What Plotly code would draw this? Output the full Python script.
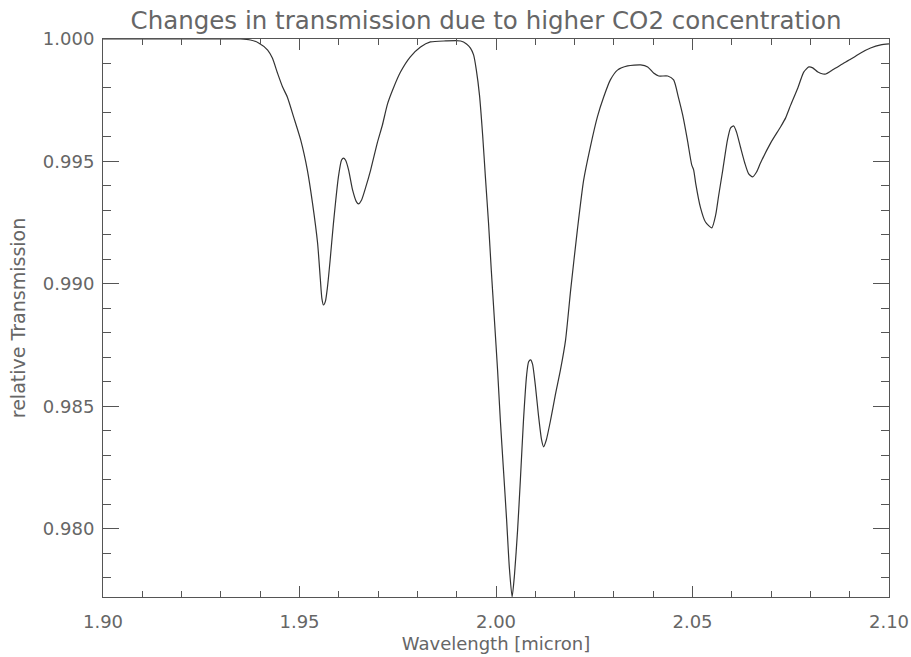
import plotly.graph_objects as go

wavelength = [
    1.9000, 1.9197, 1.9350, 1.9375, 1.9396, 1.9419, 1.9431, 1.9444, 1.9457, 1.9469,
    1.9485, 1.9503, 1.9520, 1.9533, 1.9546, 1.9553, 1.9557, 1.9561, 1.9566, 1.9571, 1.9578, 1.9586,
    1.9599, 1.9607, 1.9612, 1.9617, 1.9625, 1.9635, 1.9645, 1.9650, 1.9658, 1.9668,
    1.9681, 1.9698, 1.9711, 1.9724, 1.9739, 1.9757, 1.9782, 1.9808, 1.9833, 1.9872,
    1.9910, 1.9925, 1.9935, 1.9943, 1.9950, 1.9958, 1.9966, 1.9973, 1.9981, 1.9988,
    1.9996, 2.0004, 2.0011, 2.0019, 2.0027, 2.0034, 2.0041, 2.0047, 2.0055, 2.0062,
    2.0070, 2.0078, 2.0083, 2.0088, 2.0093, 2.0100, 2.0108, 2.0116, 2.0121, 2.0128,
    2.0139, 2.0151, 2.0164, 2.0177, 2.0190, 2.0207, 2.0223, 2.0240, 2.0258, 2.0274,
    2.0291, 2.0309, 2.0335, 2.0368, 2.0386, 2.0401, 2.0414, 2.0437, 2.0452, 2.0464,
    2.0475, 2.0487, 2.0498, 2.0503, 2.0508, 2.0520, 2.0533, 2.0549, 2.0559, 2.0566,
    2.0577, 2.0589, 2.0597, 2.0605, 2.0612, 2.0622, 2.0633, 2.0643, 2.0653, 2.0663,
    2.0673, 2.0699, 2.0724, 2.0737, 2.0750, 2.0768, 2.0783, 2.0796, 2.0806, 2.0819,
    2.0832, 2.0839, 2.0852, 2.0877, 2.0903, 2.0928, 2.0953, 2.0979, 2.1000,
]
transmission = [
    1.00000, 1.00000, 1.00000, 0.99996, 0.99984, 0.99955, 0.99922, 0.99861, 0.99804, 0.99763,
    0.99682, 0.99588, 0.99465, 0.99331, 0.99167, 0.99020, 0.98940, 0.98914, 0.98930, 0.98985, 0.99098, 0.99241,
    0.99437, 0.99506, 0.99514, 0.99506, 0.99465, 0.99384, 0.99335, 0.99327, 0.99343, 0.99392,
    0.99465, 0.99576, 0.99649, 0.99735, 0.99800, 0.99865, 0.99927, 0.99967, 0.99988, 0.99992,
    0.99992, 0.99980, 0.99963, 0.99935, 0.99873, 0.99771, 0.99608, 0.99437, 0.99249, 0.99057,
    0.98853, 0.98649, 0.98445, 0.98241, 0.98037, 0.97841, 0.97722, 0.97812, 0.97996, 0.98200,
    0.98445, 0.98629, 0.98682, 0.98690, 0.98673, 0.98588, 0.98465, 0.98363, 0.98335, 0.98363,
    0.98445, 0.98547, 0.98649, 0.98771, 0.98976, 0.99220, 0.99424, 0.99559, 0.99682, 0.99763,
    0.99833, 0.99873, 0.99890, 0.99894, 0.99886, 0.99861, 0.99849, 0.99849, 0.99833, 0.99763,
    0.99690, 0.99588, 0.99486, 0.99465, 0.99412, 0.99314, 0.99253, 0.99229, 0.99282, 0.99355,
    0.99465, 0.99588, 0.99637, 0.99645, 0.99620, 0.99559, 0.99494, 0.99449, 0.99437, 0.99457,
    0.99494, 0.99576, 0.99641, 0.99678, 0.99731, 0.99800, 0.99865, 0.99886, 0.99882, 0.99865,
    0.99857, 0.99857, 0.99869, 0.99894, 0.99918, 0.99943, 0.99963, 0.99976, 0.99980,
]

x_ticks = [1.90, 1.95, 2.00, 2.05, 2.10]
x_ticklabels = ["1.90", "1.95", "2.00", "2.05", "2.10"]
y_ticks = [0.980, 0.985, 0.990, 0.995, 1.000]
y_ticklabels = ["0.980", "0.985", "0.990", "0.995", "1.000"]

axis_col = "#555555"
text_col = "#666666"
font_fam = "DejaVu Sans"

fig = go.Figure()
fig.add_trace(go.Scatter(
    x=wavelength, y=transmission, mode="lines",
    line=dict(color="#333333", width=1.2, shape="spline", smoothing=0.6),
    showlegend=False, hoverinfo="skip",
))

fig.update_layout(
    width=911, height=657,
    margin=dict(l=103, r=22, t=39, b=60, autoexpand=False),
    paper_bgcolor="white", plot_bgcolor="white",
    title=dict(
        text="Changes in transmission due to higher CO2 concentration",
        x=486 / 911, xanchor="center", xref="container",
        y=1 - 20 / 657, yanchor="middle", yref="container",
        font=dict(family=font_fam, size=24.5, color=text_col),
    ),
)

fig.update_xaxes(
    range=[1.90, 2.10], automargin=False,
    tickvals=x_ticks, ticktext=x_ticklabels,
    ticks="inside", ticklen=11, tickwidth=1, tickcolor=axis_col,
    minor=dict(dtick=0.01, tick0=1.90, ticks="inside", ticklen=6, tickcolor=axis_col, showgrid=False),
    showline=True, linecolor=axis_col, linewidth=1, mirror="allticks",
    showgrid=False, zeroline=False,
    tickfont=dict(family=font_fam, size=18, color=text_col),
    ticklabelstandoff=8,
    title=dict(text="Wavelength [micron]", font=dict(family=font_fam, size=18, color=text_col), standoff=6),
)
fig.update_yaxes(
    range=[0.97722, 1.0], automargin=False,
    tickvals=y_ticks, ticktext=y_ticklabels,
    ticks="inside", ticklen=16, tickwidth=1, tickcolor=axis_col,
    minor=dict(dtick=0.001, tick0=0.98, ticks="inside", ticklen=8, tickcolor=axis_col, showgrid=False),
    showline=True, linecolor=axis_col, linewidth=1, mirror="allticks",
    showgrid=False, zeroline=False,
    tickfont=dict(family=font_fam, size=18, color=text_col),
    ticklabelstandoff=4,
    title=dict(text="relative Transmission", font=dict(family=font_fam, size=19, color=text_col), standoff=12),
)

fig.write_html("out.html")
